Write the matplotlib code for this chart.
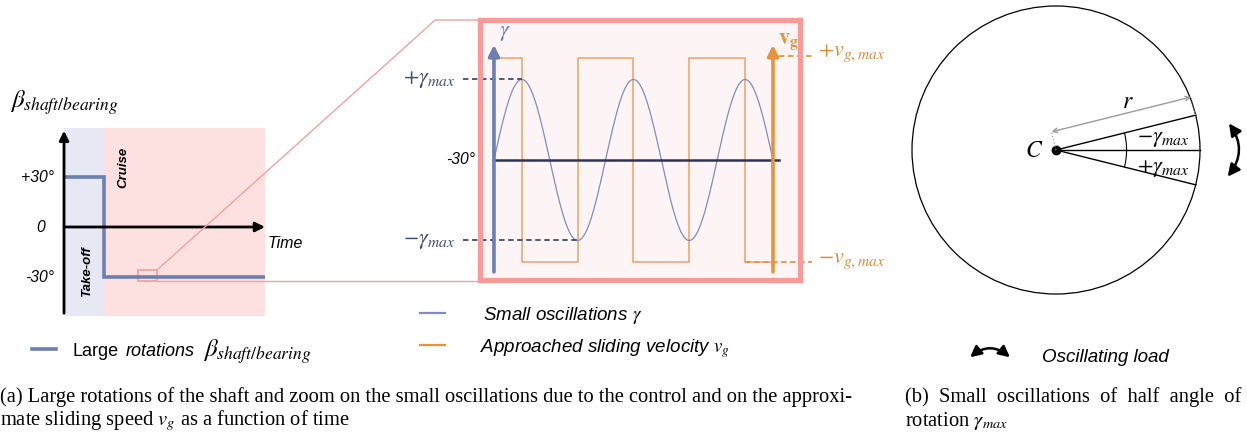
import numpy as np
import matplotlib.pyplot as plt
from matplotlib.lines import Line2D
from matplotlib.patches import Rectangle, Circle, Arc, FancyArrowPatch

plt.rcParams['mathtext.fontset'] = 'stix'
plt.rcParams['font.family'] = ['Liberation Sans', 'DejaVu Sans']

# --- data -------------------------------------------------------------
# large rotations of the shaft (degrees) vs time (arbitrary units)
beta_times = [0, 2, 2, 10]
beta_values = [30, 30, -30, -30]
takeoff_end = 2
time_end = 10
beta_ticks = [30, 0, -30]
beta_ticklabels = ['+30°', '0', '-30°']
zoom_window = (3.68, 4.63, -32.4, -25.8)   # t0, t1, beta0, beta1

# small oscillations (in periods) and approached sliding velocity
n_cycles = 2.5
gamma_max = 1.0
vg_max = 1.27
vg_switch = [0, 0.25, 0.75, 1.25, 1.75, 2.25, 2.5]
vg_levels = [1, -1, 1, -1, 1, -1]

# half angle of rotation on the bearing sketch (degrees)
gamma_max_deg = 14
radius = 1.0

BLUE = '#6B7FB0'
BLUE_THIN = '#7D8DC0'
SLATE = '#3E4C70'
ORANGE = '#E8923A'
ORANGE_TXT = '#D98B3A'
PINK = '#F79A98'
NAVY = '#2C3556'

W, H = 1247, 436
fig = plt.figure(figsize=(W / 100, H / 100), dpi=100)


def box(x0, y0, x1, y1):
    return fig.add_axes([x0 / W, 1 - y1 / H, (x1 - x0) / W, (y1 - y0) / H])


def fp(x, y):
    return (x / W, 1 - y / H)


# --- (a) left: large rotations ----------------------------------------
axL = box(64, 128, 265, 316)
axL.set_xlim(0, time_end)
axL.set_ylim(-53.4, 59.4)
axL.axis('off')
axL.axvspan(0, takeoff_end, color='#E6E8F4', lw=0)
axL.axvspan(takeoff_end, time_end, color='#FDE1E1', lw=0)
axL.plot(beta_times, beta_values, color=BLUE, lw=2.6, solid_joinstyle='miter')
axL.annotate('', xy=(0, 1), xytext=(0, 0), xycoords='axes fraction',
             arrowprops=dict(arrowstyle='-|>', lw=2, color='k', mutation_scale=14))
axL.annotate('', xy=(time_end, 0), xytext=(0, 0),
             arrowprops=dict(arrowstyle='-|>', lw=2, color='k', mutation_scale=14,
                             shrinkA=0, shrinkB=0), annotation_clip=False)
for b, lab in zip(beta_ticks, beta_ticklabels):
    xt = -0.95 if b == 0 else -0.5
    axL.text(xt, b, lab, ha='right', va='center', style='italic', fontsize=11.3)
axL.text(10.15, -9.6, 'Time', ha='left', va='center', style='italic', fontsize=11.5,
         clip_on=False)
axL.text(1.14, -27, 'Take-off', rotation=90, ha='center', va='center',
         style='italic', weight='bold', fontsize=9.5)
axL.text(2.94, 36, 'Cruise', rotation=90, ha='center', va='center',
         style='italic', weight='bold', fontsize=9.5)
t0, t1, b0, b1 = zoom_window
axL.add_patch(Rectangle((t0, b0), t1 - t0, b1 - b0, fill=False, ec=PINK, lw=1.2))

fig.text(*fp(10, 103), r'$\beta_{shaft/bearing}$', fontsize=18, va='center')

# --- (a) middle: zoom on the oscillations -----------------------------
axM = box(480, 20, 800, 280)
axM.set_xlim(-0.125, 2.742)
axM.set_ylim(-1.491, 1.739)
axM.set_facecolor('#FDF5F5')
axM.set_xticks([])
axM.set_yticks([])
for s in axM.spines.values():
    s.set_color(PINK)
    s.set_linewidth(3.8)

t = np.linspace(0, n_cycles, 600)
axM.plot(t, gamma_max * np.sin(2 * np.pi * t), color=BLUE_THIN, lw=0.9)
axM.stairs(vg_max * np.array(vg_levels), vg_switch, color='#F0A060', lw=1.1,
           baseline=None)
axM.plot([0, 2.554], [0, 0], color=NAVY, lw=1.8)
axM.annotate('', xy=(0, 1.43), xytext=(0, -1.39),
             arrowprops=dict(arrowstyle='-|>', lw=2.6, color=BLUE, mutation_scale=16,
                             shrinkA=0, shrinkB=0))
axM.annotate('', xy=(n_cycles, 1.43), xytext=(n_cycles, -1.39),
             arrowprops=dict(arrowstyle='-|>', lw=2.6, color=ORANGE, mutation_scale=16,
                             shrinkA=0, shrinkB=0))
axM.text(0.1, 1.58, r'$\gamma$', color=BLUE, fontsize=16, ha='center', va='center')
axM.text(2.64, 1.47, r'$\mathbf{v}_\mathbf{g}$', color=ORANGE, fontsize=16,
         ha='center', va='center')
axM.text(-0.17, 0, '-30°', ha='right', va='center', style='italic', fontsize=11.3)

# dashed levels and labels
axM.plot([-0.28, 0.25], [gamma_max, gamma_max], ls=(0, (3, 2)), color=SLATE,
         lw=1.3, clip_on=False)
axM.plot([-0.28, 0.75], [-gamma_max, -gamma_max], ls=(0, (3, 2)), color=SLATE,
         lw=1.3, clip_on=False)
axM.text(-0.35, gamma_max, r'$+\gamma_{max}$', color=SLATE, fontsize=16,
         ha='right', va='center', clip_on=False)
axM.text(-0.35, -gamma_max, r'$-\gamma_{max}$', color=SLATE, fontsize=16,
         ha='right', va='center', clip_on=False)
axM.plot([2.554, 2.85], [vg_max + 0.02, vg_max + 0.02], ls=(0, (3, 2)),
         color=ORANGE, lw=1.3, clip_on=False)
axM.plot([2.25, 2.85], [-vg_max, -vg_max], ls=(0, (3, 2)), color=ORANGE,
         lw=1.3, clip_on=False)
axM.text(2.9, vg_max + 0.05, r'$+v_{g,max}$', color=ORANGE_TXT, fontsize=16,
         ha='left', va='center', clip_on=False)
axM.text(2.9, -vg_max + 0.02, r'$-v_{g,max}$', color=ORANGE_TXT, fontsize=16,
         ha='left', va='center', clip_on=False)

# zoom connectors from the small rectangle to the zoom box
inv = fig.transFigure.inverted()
c_top = inv.transform(axL.transData.transform((t1, b1)))
c_bot = inv.transform(axL.transData.transform((t1, b0)))
kink = inv.transform(axM.transAxes.transform((-0.14, 1.0)))
m_tl = inv.transform(axM.transAxes.transform((0, 1.0)))
m_bl = inv.transform(axM.transAxes.transform((0, 0.0)))
fig.add_artist(Line2D([c_top[0], kink[0], m_tl[0]], [c_top[1], kink[1], m_tl[1]],
                      color='#F4A09C', lw=1.0, transform=fig.transFigure))
fig.add_artist(Line2D([c_bot[0], m_bl[0]], [c_bot[1], c_bot[1]],
                      color='#F4A09C', lw=1.0, transform=fig.transFigure))

# legends of (a)
fig.add_artist(Line2D([32 / W, 56 / W], [1 - 349 / H] * 2, color=BLUE, lw=2.6))
fig.text(*fp(72, 351), 'Large', fontsize=13, va='center')
fig.text(*fp(126, 351), 'rotations', fontsize=13, va='center', style='italic')
fig.text(*fp(203, 352), r'$\beta_{shaft/bearing}$', fontsize=18, va='center')

fig.add_artist(Line2D([420 / W, 445 / W], [1 - 313 / H] * 2, color=BLUE_THIN, lw=1.6))
fig.text(*fp(483, 316), r'Small oscillations $\gamma$', fontsize=13.5,
         va='center', style='italic')
fig.add_artist(Line2D([420 / W, 445 / W], [1 - 345 / H] * 2, color=ORANGE, lw=1.6))
fig.text(*fp(480, 349), r'Approached sliding velocity $v_g$', fontsize=13.5,
         va='center', style='italic')

# --- (b) right: bearing sketch ----------------------------------------
axR = box(896, 0, 1247, 300)
axR.set_xlim(-160 / 144, 191 / 144)
axR.set_ylim(-150 / 144, 150 / 144)
axR.axis('off')
axR.add_patch(Circle((0, 0), radius, fill=False, ec='k', lw=0.9))
g = np.deg2rad(gamma_max_deg)
P_up = np.array([np.cos(g), np.sin(g)]) * radius
P_dn = np.array([np.cos(g), -np.sin(g)]) * radius
for P in (P_up, (radius, 0), P_dn):
    axR.plot([0, P[0]], [0, P[1]], color='k', lw=1.0)
axR.add_patch(Arc((0, 0), 0.98, 0.98, theta1=0, theta2=gamma_max_deg, lw=0.8))
axR.add_patch(Arc((0, 0), 0.98, 0.98, theta1=-gamma_max_deg, theta2=0, lw=0.8))
axR.plot([0], [0], 'o', color='k', ms=6)
axR.text(-0.15, -0.01, r'$C$', fontsize=17, ha='center', va='center')
axR.text(0.56, 0.08, r'$-\gamma_{max}$', fontsize=16, ha='left', va='center')
axR.text(0.56, -0.13, r'$+\gamma_{max}$', fontsize=16, ha='left', va='center')

n = np.array([-np.sin(g), np.cos(g)])
r_start = 0.13 * n
r_end = P_up + 0.13 * n
axR.annotate('', xy=r_end, xytext=r_start,
             arrowprops=dict(arrowstyle='<->', color='#9A9A9A', lw=1.0,
                             mutation_scale=8, shrinkA=0, shrinkB=0))
axR.plot([0, r_start[0]], [0, r_start[1]], ls=':', color='#9A9A9A', lw=0.9)
axR.plot([P_up[0], r_end[0]], [P_up[1], r_end[1]], ls=':', color='#9A9A9A', lw=0.9)
axR.text(0.5, 0.33, r'$r$', fontsize=17, ha='center', va='center')

axR.add_patch(FancyArrowPatch((1.19, 0.2), (1.18, -0.2),
                              connectionstyle='arc3,rad=-0.4',
                              arrowstyle='<|-|>,head_length=0.6,head_width=0.3',
                              mutation_scale=12, lw=1.8, color='k', clip_on=False))

# legend of (b)
fig.add_artist(FancyArrowPatch(fp(968, 359), fp(1012, 359), transform=fig.transFigure,
                               connectionstyle='arc3,rad=-0.45',
                               arrowstyle='<|-|>,head_length=0.55,head_width=0.28',
                               mutation_scale=12, lw=1.8, color='k'))
fig.text(*fp(1042, 357), 'Oscillating load', fontsize=13.5, va='center',
         style='italic')

# --- captions -----------------------------------------------------------
cap = dict(family=['Liberation Serif', 'DejaVu Serif'], fontsize=14.8, va='center')
fig.text(*fp(0, 397), '(a) Large rotations of the shaft and zoom on the small '
         'oscillations due to the control and on the approxi-', **cap)
fig.text(*fp(0, 421), r'mate sliding speed $v_g$ as a function of time', **cap)
fig.text(*fp(905, 397), '(b)  Small  oscillations  of  half  angle  of', **cap)
fig.text(*fp(905, 421), r'rotation $\gamma_{max}$', **cap)

fig.savefig('out.png', dpi=100)
